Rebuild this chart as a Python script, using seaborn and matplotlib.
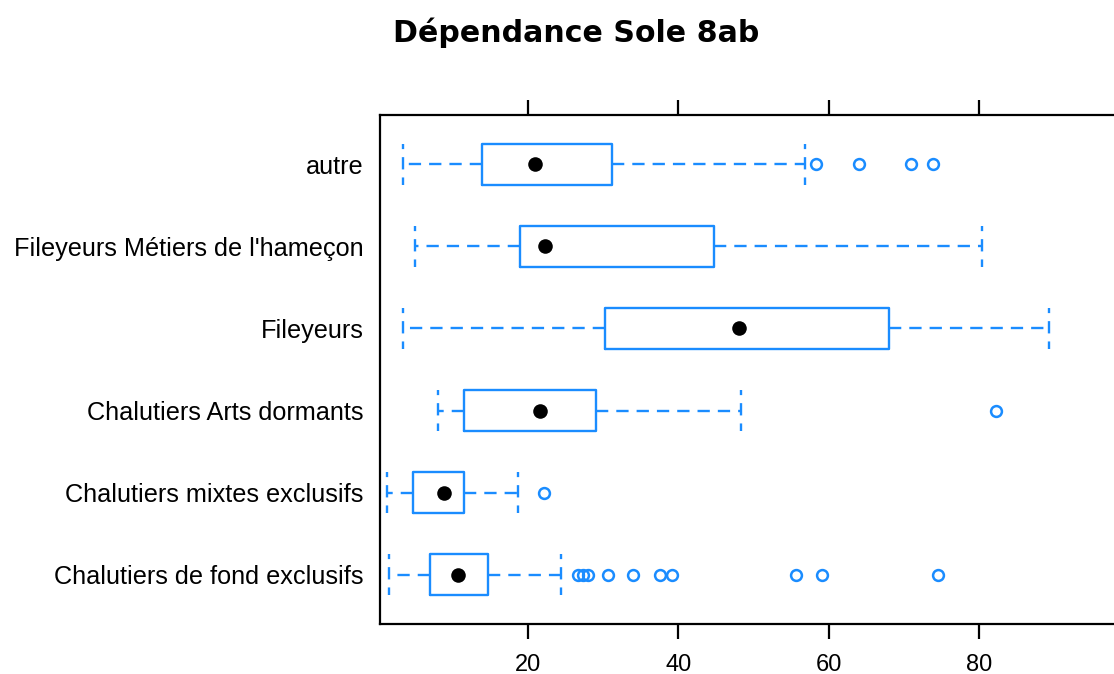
import numpy as np
import pandas as pd
import matplotlib
matplotlib.use("Agg")
import matplotlib.pyplot as plt
import seaborn as sns

# ---- data ----
categories = ["Chalutiers de fond exclusifs", "Chalutiers mixtes exclusifs",
              "Chalutiers Arts dormants", "Fileyeurs",
              "Fileyeurs Métiers de l'hameçon", "autre"]
whisker_low = [1.5, 1.2, 8.0, 3.3, 4.9, 3.3]
q1 = [6.9, 4.7, 11.5, 30.3, 18.9, 13.9]
median = [10.7, 8.8, 21.6, 48.1, 22.3, 20.9]
q3 = [14.7, 11.5, 29.1, 68.0, 44.8, 31.2]
whisker_high = [24.4, 18.7, 48.4, 89.3, 80.4, 56.8]
outliers = [
    [26.7, 27.3, 28.0, 30.7, 34.0, 37.5, 39.1, 55.7, 59.1, 74.5],
    [22.1],
    [82.3],
    [],
    [],
    [58.3, 64.1, 70.9, 73.9],
]
x_ticks = [20, 40, 60, 80]
title = "Dépendance Sole 8ab"

sns.set_style("white")
plt.rcParams['font.family'] = ['Liberation Sans', 'DejaVu Sans']
plt.rcParams['text.color'] = 'black'
plt.rcParams['xtick.color'] = 'black'
plt.rcParams['ytick.color'] = 'black'

W, H = 1114, 674
fig = plt.figure(figsize=(W / 100, H / 100), dpi=100)
left_px, top_px, bottom_px = 380, 115, 624
x0, x1 = 0.3, 100.0
px_per_unit = 7.515
right_px = left_px + (x1 - x0) * px_per_unit
ax = fig.add_axes([left_px / W, 1 - bottom_px / H,
                   (right_px - left_px) / W, (bottom_px - top_px) / H])

blue = "#1a8cff"
lw = 1.7
dash = (5.2, 3.4)

stats = []
for i, c in enumerate(categories):
    stats.append(dict(med=median[i], q1=q1[i], q3=q3[i],
                      whislo=whisker_low[i], whishi=whisker_high[i],
                      fliers=np.array(outliers[i]), label=c))
pos = np.arange(len(categories))
ax.bxp(stats, positions=pos, widths=0.5, capwidths=0.5,
       orientation='horizontal', showfliers=True,
       boxprops=dict(color=blue, linewidth=lw),
       whiskerprops=dict(color=blue, linewidth=lw, linestyle=(0, dash)),
       capprops=dict(color=blue, linewidth=lw, linestyle=(2, dash)),
       medianprops=dict(linewidth=0),
       flierprops=dict(marker='o', markerfacecolor='none', markeredgecolor=blue,
                       markersize=7.8, markeredgewidth=1.8))

med_df = pd.DataFrame({"median": median, "pos": pos})
sns.scatterplot(data=med_df, x="median", y="pos", ax=ax, color="black",
                s=110, marker="o", edgecolor="black", linewidth=0, zorder=5)

ax.set_xlim(x0, x1)
ax.set_ylim(-0.6, len(categories) - 0.4)
ax.set_yticks(pos)
ax.set_yticklabels(categories, fontsize=18.2, color='black')
ax.set_xticks(x_ticks)
ax.set_xticklabels([str(t) for t in x_ticks], fontsize=17, color='black')
ax.set_xlabel("")
ax.set_ylabel("")
ax.tick_params(axis='y', length=0, pad=12)
ax.tick_params(axis='x', which='both', top=True, bottom=True, labeltop=False,
               direction='out', length=10.5, width=1.6, color='black', pad=11)
for s in ["left", "top", "bottom", "right"]:
    ax.spines[s].set_color("black")
    ax.spines[s].set_linewidth(1.6)
ax.grid(False)

fig.text(576 / W, 1 - 33 / H, title, ha='center', va='center', color='black',
         fontsize=21.6, fontweight='bold', family=['DejaVu Sans'])

fig.savefig("out.png", dpi=100)
